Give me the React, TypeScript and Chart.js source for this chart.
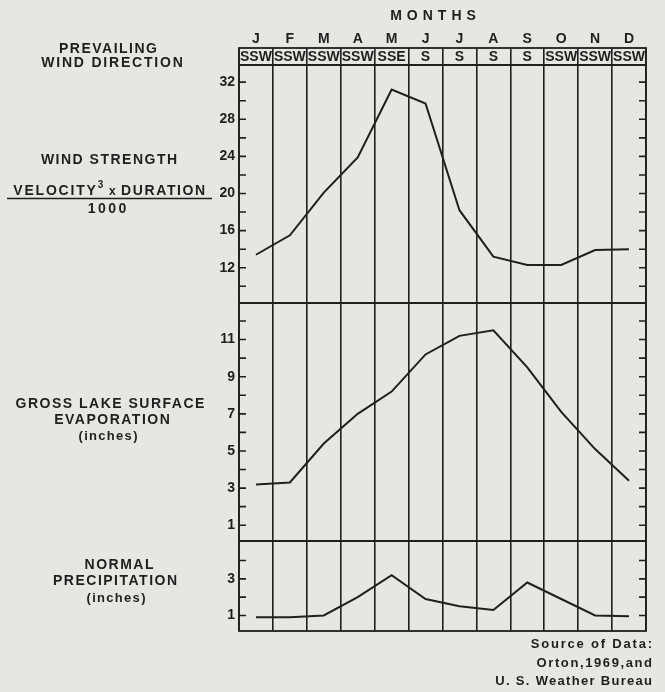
import React, { useEffect, useRef } from 'react';
import { Chart, registerables } from 'chart.js';

Chart.register(...registerables);

// ---------- data ----------
const months = ['J', 'F', 'M', 'A', 'M', 'J', 'J', 'A', 'S', 'O', 'N', 'D'];
const windDirection = ['SSW', 'SSW', 'SSW', 'SSW', 'SSE', 'S', 'S', 'S', 'S', 'SSW', 'SSW', 'SSW'];
const windStrength = [13.4, 15.5, 20.1, 23.9, 31.2, 29.7, 18.2, 13.2, 12.3, 12.3, 13.9, 14.0];
const evaporation = [3.2, 3.3, 5.4, 7.0, 8.2, 10.2, 11.2, 11.5, 9.5, 7.1, 5.1, 3.4];
const precipitation = [0.9, 0.9, 1.0, 2.0, 3.2, 1.9, 1.5, 1.3, 2.8, 1.9, 1.0, 0.95];

const windTickLabels = [12, 16, 20, 24, 28, 32];
const evapTickLabels = [1, 3, 5, 7, 9, 11];
const precipTickLabels = [1, 3];

// ---------- styles ----------
const INK = '#1f1f1f';
const BG = '#e6e6e3';
const FONT = '"Liberation Sans", Arial, Helvetica, sans-serif';

function spacedText(ctx: any, text: string, x: number, y: number, spacing: number, align: string) {
  ctx.letterSpacing = spacing + 'px';
  ctx.textAlign = align;
  let dx = 0;
  if (align === 'center') dx = spacing / 2;
  if (align === 'right') dx = spacing;
  ctx.fillText(text, x + dx, y);
  ctx.letterSpacing = '0px';
}

// draws several runs of text (different fonts / raise) centred on x
function runsText(ctx: any, runs: { text: string; font: string; dy: number; sp: number }[], cx: number, y: number) {
  let total = 0;
  const widths = runs.map((r) => {
    ctx.font = r.font;
    ctx.letterSpacing = r.sp + 'px';
    const w = ctx.measureText(r.text).width;
    total += w;
    return w;
  });
  let x = cx - total / 2;
  ctx.textAlign = 'left';
  runs.forEach((r, i) => {
    ctx.font = r.font;
    ctx.letterSpacing = r.sp + 'px';
    ctx.fillText(r.text, x, y + r.dy);
    x += widths[i];
  });
  ctx.letterSpacing = '0px';
}

const decorPlugin = {
  id: 'decor',
  beforeDraw(chart: any) {
    const { ctx, width, height } = chart;
    ctx.save();
    ctx.fillStyle = BG;
    ctx.fillRect(0, 0, width, height);
    ctx.restore();
  },
  afterDraw(chart: any) {
    const { ctx, chartArea, scales } = chart;
    const { left, right } = chartArea;
    ctx.save();
    ctx.strokeStyle = INK;
    ctx.fillStyle = INK;

    // panel frames
    ctx.lineWidth = 1.8;
    ['dir', 'wind', 'evap', 'precip'].forEach((id) => {
      const s = scales[id];
      ctx.strokeRect(left, s.top, right - left, s.bottom - s.top);
    });

    // inward tick marks on both sides
    ctx.lineWidth = 1.6;
    ['wind', 'evap', 'precip'].forEach((id) => {
      const s = scales[id];
      s.ticks.forEach((t: any) => {
        const y = s.getPixelForValue(t.value);
        if (y < s.top + 4 || y > s.bottom - 4) return;
        ctx.beginPath();
        ctx.moveTo(left, y);
        ctx.lineTo(left + 7, y);
        ctx.moveTo(right - 7, y);
        ctx.lineTo(right, y);
        ctx.stroke();
      });
    });

    // wind direction row
    const xs = scales.x;
    const d = scales.dir;
    ctx.font = `bold 14px ${FONT}`;
    ctx.textBaseline = 'middle';
    ctx.textAlign = 'center';
    windDirection.forEach((w, i) => {
      ctx.fillText(w, xs.getPixelForValue(i), (d.top + d.bottom) / 2 + 1, 33);
    });

    // MONTHS title
    ctx.font = `bold 14px ${FONT}`;
    spacedText(ctx, 'MONTHS', 433, 16, 5, 'center');

    // left-hand panel labels
    ctx.font = `bold 14px ${FONT}`;
    spacedText(ctx, 'PREVAILING', 108, 49, 1.5, 'center');
    spacedText(ctx, 'WIND DIRECTION', 112, 63, 1.8, 'center');

    spacedText(ctx, 'WIND STRENGTH', 109, 160, 1.5, 'center');
    runsText(
      ctx,
      [
        { text: 'VELOCITY', font: `bold 14px ${FONT}`, dy: 0, sp: 1.8 },
        { text: '3', font: `bold 10px ${FONT}`, dy: -6, sp: 1.5 },
        { text: ' x ', font: `bold 12px ${FONT}`, dy: 1, sp: 1 },
        { text: 'DURATION', font: `bold 14px ${FONT}`, dy: 0, sp: 1.6 },
      ],
      110,
      191
    );
    ctx.lineWidth = 1.5;
    ctx.beginPath();
    ctx.moveTo(7, 198.5);
    ctx.lineTo(212, 198.5);
    ctx.stroke();
    ctx.font = `bold 14px ${FONT}`;
    spacedText(ctx, '1000', 107, 209, 2.5, 'center');

    spacedText(ctx, 'GROSS LAKE SURFACE', 110, 404, 1.5, 'center');
    spacedText(ctx, 'EVAPORATION', 112, 420, 1.5, 'center');
    ctx.font = `bold 13px ${FONT}`;
    spacedText(ctx, '(inches)', 108, 436, 1.3, 'center');

    ctx.font = `bold 14px ${FONT}`;
    spacedText(ctx, 'NORMAL', 119, 565, 1.5, 'center');
    spacedText(ctx, 'PRECIPITATION', 115, 581, 1.5, 'center');
    ctx.font = `bold 13px ${FONT}`;
    spacedText(ctx, '(inches)', 116, 598, 1.3, 'center');

    // source note
    ctx.font = `bold 13px ${FONT}`;
    spacedText(ctx, 'Source of Data:', 652, 644, 1.8, 'right');
    spacedText(ctx, 'Orton,1969,and', 652, 663, 1.6, 'right');
    spacedText(ctx, 'U. S. Weather Bureau', 652, 681, 1.3, 'right');

    ctx.restore();
  },
};

const tickFont = { family: FONT, weight: 'bold' as const, size: 14 };

function yPanel(min: number, max: number, step: number, weight: number, labels: number[]) {
  return {
    type: 'linear' as const,
    position: 'left' as const,
    stack: 'panels',
    stackWeight: weight,
    min,
    max,
    grid: { display: false, drawTicks: false },
    border: { display: false },
    ticks: {
      stepSize: step,
      includeBounds: false,
      autoSkip: false,
      padding: 4,
      color: INK,
      font: tickFont,
      callback: (v: any) => (labels.includes(Number(v)) ? String(v) : ''),
    },
    afterFit: (s: any) => {
      s.width = 60;
    },
  };
}

export default function App() {
  const ref = useRef<HTMLCanvasElement | null>(null);

  useEffect(() => {
    if (!ref.current) return;
    const line = (data: number[], axis: string) => ({
      data,
      yAxisID: axis,
      borderColor: INK,
      borderWidth: 2,
      pointRadius: 0,
      tension: 0,
      fill: false,
    });
    const chart = new Chart(ref.current, {
      type: 'line',
      data: {
        labels: months,
        datasets: [
          line(windStrength, 'wind'),
          line(evaporation, 'evap'),
          line(precipitation, 'precip'),
        ],
      },
      options: {
        responsive: false,
        animation: false,
        devicePixelRatio: 1,
        layout: { padding: { left: 179, right: 19, top: 0, bottom: 61 } },
        plugins: { legend: { display: false }, tooltip: { enabled: false } },
        scales: {
          x: {
            type: 'category',
            position: 'top',
            offset: true,
            grid: { offset: true, color: INK, lineWidth: 1.6, drawTicks: false },
            border: { display: false },
            ticks: {
              color: INK,
              font: { family: FONT, weight: 'bold', size: 14 },
              padding: 0,
              maxRotation: 0,
              autoSkip: false,
            },
            afterFit: (s: any) => {
              s.height = 48;
            },
          },
          precip: yPanel(0.15, 5.07, 1, 90, precipTickLabels),
          evap: yPanel(0.15, 12.97, 1, 238, evapTickLabels),
          wind: yPanel(8.2, 33.85, 2, 238, windTickLabels),
          dir: {
            type: 'linear',
            position: 'left',
            stack: 'panels',
            stackWeight: 17,
            min: 0,
            max: 1,
            grid: { display: false, drawTicks: false },
            border: { display: false },
            ticks: { display: false },
            afterFit: (s: any) => {
              s.width = 60;
            },
          },
        },
      } as any,
      plugins: [decorPlugin],
    });
    return () => chart.destroy();
  }, []);

  return (
    <div style={{ position: 'absolute', left: 0, top: 0, width: 665, height: 692, background: BG }}>
      <canvas ref={ref} width={665} height={692} style={{ display: 'block', width: 665, height: 692 }} />
    </div>
  );
}
